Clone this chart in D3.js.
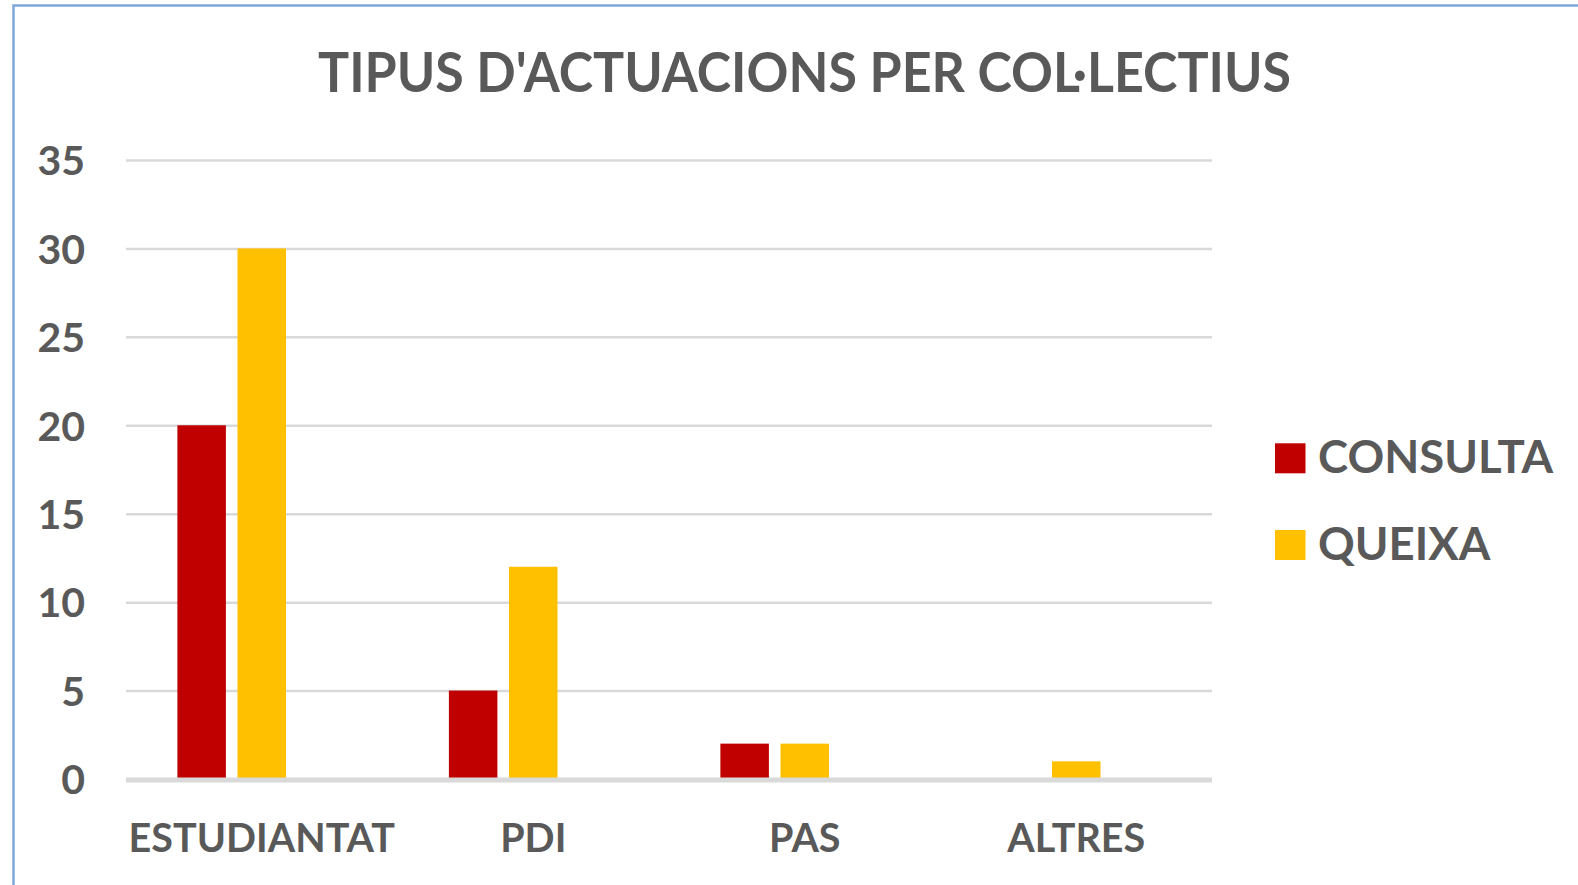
<!DOCTYPE html>
<html>
<head>
<meta charset="utf-8">
<script src="https://cdn.jsdelivr.net/npm/d3@7"></script>
<style>
  html, body { margin: 0; padding: 0; background: #fff; }
  svg { display: block; }
  text { font-family: Lato, "Open Sans", sans-serif; font-weight: 700; fill: #595959; }
</style>
</head>
<body>
<svg id="chart" width="1578" height="885"></svg>
<script>
const title = "TIPUS D'ACTUACIONS PER COL·LECTIUS";
const categories = ["ESTUDIANTAT", "PDI", "PAS", "ALTRES"];
const seriesNames = ["CONSULTA", "QUEIXA"];
const consulta = [20, 5, 2, 0];
const queixa = [30, 12, 2, 1];
const yTicks = [0, 5, 10, 15, 20, 25, 30, 35];
const colors = ["#C00000", "#FFC000"];

const seriesValues = [consulta, queixa];
const svg = d3.select("#chart");
const W = 1578, H = 885;

svg.append("rect").attr("width", W).attr("height", H).attr("fill", "#fff");

// chart border (extends past right/bottom edges as in reference)
svg.append("rect")
  .attr("x", 13.5).attr("y", 5.5)
  .attr("width", W + 20).attr("height", H + 20)
  .attr("fill", "none").attr("stroke", "#7FA7DC").attr("stroke-width", 2.5);

const plot = { left: 126, right: 1212, top: 160, bottom: 779 };

const x0 = d3.scaleBand().domain(categories).range([plot.left, plot.right]).paddingInner(0).paddingOuter(0);
// three slots per category (third slot is an empty series in the original)
const x1 = d3.scaleBand().domain([0, 1, 2]).range([0, x0.bandwidth()]).paddingInner(0.193).paddingOuter(0.855);
const y = d3.scaleLinear().domain([0, 35]).range([plot.bottom, plot.top]);

// gridlines
const yAxis = d3.axisLeft(y).tickValues(yTicks).tickSize(-(plot.right - plot.left)).tickFormat(d3.format("d")).tickPadding(41);
const gAxis = svg.append("g").attr("transform", `translate(${plot.left},0)`).call(yAxis);
gAxis.select(".domain").remove();
gAxis.selectAll(".tick line")
  .attr("stroke", "#D9D9D9")
  .attr("stroke-width", d => d === 0 ? 0 : 2.5);
gAxis.selectAll(".tick text")
  .attr("font-size", 41)
  .attr("fill", "#595959")
  .attr("font-family", "Lato, sans-serif")
  .attr("font-weight", 700)
  .attr("dy", "0.36em");

// bars
const groups = svg.append("g").selectAll("g")
  .data(categories)
  .join("g")
  .attr("transform", d => `translate(${x0(d)},0)`);

groups.selectAll("rect")
  .data((d, i) => seriesValues.map((vals, s) => ({ s, v: vals[i] })))
  .join("rect")
  .attr("x", d => x1(d.s))
  .attr("width", x1.bandwidth())
  .attr("y", d => y(d.v))
  .attr("height", d => y(0) - y(d.v))
  .attr("fill", d => colors[d.s]);

// baseline
svg.append("line")
  .attr("x1", plot.left).attr("x2", plot.right)
  .attr("y1", y(0) + 1).attr("y2", y(0) + 1)
  .attr("stroke", "#D9D9D9").attr("stroke-width", 5);

// x axis labels
const xAxis = d3.axisBottom(x0).tickSize(0).tickPadding(0);
const gx = svg.append("g").attr("transform", `translate(0,${plot.bottom})`).call(xAxis);
gx.select(".domain").remove();
gx.selectAll(".tick text")
  .attr("font-size", 39.5)
  .attr("fill", "#595959")
  .attr("font-family", "Lato, sans-serif")
  .attr("font-weight", 700)
  .attr("y", 72.5)
  .attr("dy", 0);

// title
svg.append("text")
  .attr("x", 804.5).attr("y", 91.7)
  .attr("text-anchor", "middle")
  .attr("font-size", 55)
  .attr("textLength", 973)
  .attr("lengthAdjust", "spacingAndGlyphs")
  .text(title);

// legend
const legend = svg.append("g").selectAll("g")
  .data(seriesNames)
  .join("g")
  .attr("transform", (d, i) => `translate(1275,${443.3 + i * 86.7})`);
legend.append("rect").attr("width", 30.5).attr("height", 30).attr("fill", (d, i) => colors[i]);
legend.append("text")
  .attr("x", 43).attr("y", 30)
  .attr("font-size", 45.5)
  .text(d => d);
</script>
</body>
</html>
